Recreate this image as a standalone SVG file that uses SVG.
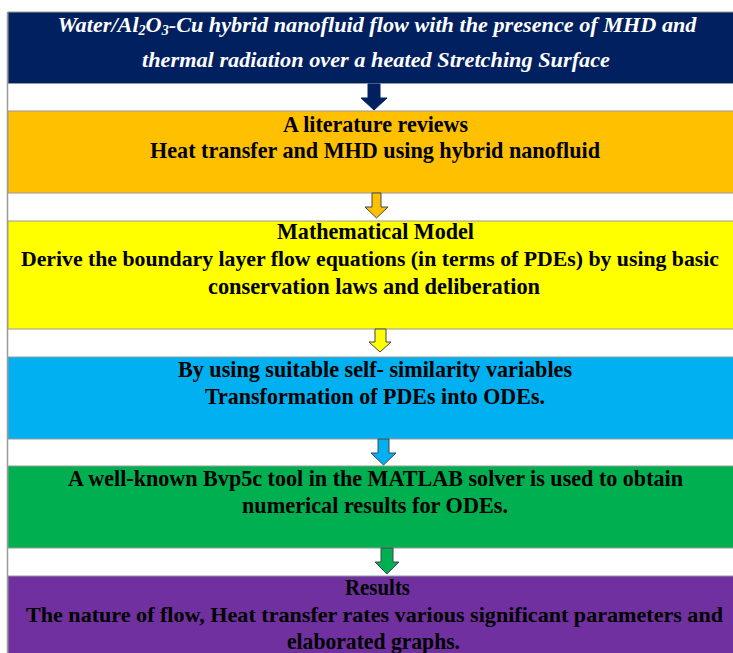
<svg xmlns="http://www.w3.org/2000/svg" width="733" height="653" viewBox="0 0 733 653">
<style>
.box{stroke:#9a9a9a;stroke-width:1}
.t{font-family:"Liberation Serif","Times New Roman",serif;font-weight:bold;font-size:23px;text-anchor:middle;fill:#000}
.w{font-size:21px}
.ti{font-family:"Liberation Serif","Times New Roman",serif;font-weight:bold;font-style:italic;font-size:22px;text-anchor:middle;fill:#fff}
.arr{stroke:#3f4650;stroke-width:1;stroke-linejoin:miter}
</style>
<rect x="0" y="0" width="733" height="653" fill="#fff"/>
<line x1="7.5" y1="12" x2="7.5" y2="653" stroke="#9a9a9a" stroke-width="1.5"/>
<g id="node-problem">
<rect class="box" x="8" y="12" width="730" height="71.5" fill="#002060"/>
<text class="ti" x="377" y="32" textLength="639" lengthAdjust="spacingAndGlyphs">Water/Al<tspan font-size="14" dy="3">2</tspan><tspan dy="-3">O</tspan><tspan font-size="14" dy="3">3</tspan><tspan dy="-3">-Cu hybrid nanofluid flow with the presence of MHD and</tspan></text>
<text class="ti" x="376" y="67" textLength="468" lengthAdjust="spacingAndGlyphs">thermal radiation over a heated Stretching Surface</text>
</g>
<g id="node-literature">
<rect class="box" x="8" y="111" width="730" height="82" fill="#FFC000"/>
<text class="t" x="375.5" y="132" textLength="185" lengthAdjust="spacingAndGlyphs">A literature reviews</text>
<text class="t" x="375" y="158" textLength="450" lengthAdjust="spacingAndGlyphs">Heat transfer and MHD using hybrid nanofluid</text>
</g>
<g id="node-model">
<rect class="box" x="8" y="221" width="730" height="108" fill="#FFFF00"/>
<text class="t" x="375.5" y="239" textLength="197" lengthAdjust="spacingAndGlyphs">Mathematical Model</text>
<text class="t w" x="370" y="266" textLength="698" lengthAdjust="spacingAndGlyphs">Derive the boundary layer flow equations (in terms of PDEs) by using basic</text>
<text class="t" x="374" y="294" textLength="332" lengthAdjust="spacingAndGlyphs">conservation laws and deliberation</text>
</g>
<g id="node-similarity">
<rect class="box" x="8" y="357" width="730" height="82" fill="#00B0F0"/>
<text class="t" x="375" y="377" textLength="394" lengthAdjust="spacingAndGlyphs">By using suitable self- similarity variables</text>
<text class="t" x="375" y="404" textLength="340" lengthAdjust="spacingAndGlyphs">Transformation of PDEs into ODEs.</text>
</g>
<g id="node-solver">
<rect class="box" x="8" y="466" width="730" height="82" fill="#00B050"/>
<text class="t" x="375.5" y="486" textLength="615" lengthAdjust="spacingAndGlyphs">A well-known Bvp5c tool in the MATLAB solver is used to obtain</text>
<text class="t" x="375" y="513" textLength="266" lengthAdjust="spacingAndGlyphs">numerical results for ODEs.</text>
</g>
<g id="node-results">
<rect class="box" x="8" y="576" width="730" height="90" fill="#7030A0"/>
<text class="t" x="377.5" y="595" textLength="65" lengthAdjust="spacingAndGlyphs">Results</text>
<text class="t w" x="374.5" y="622" textLength="697" lengthAdjust="spacingAndGlyphs">The nature of flow, Heat transfer rates various significant parameters and</text>
<text class="t" x="373.5" y="649" textLength="173" lengthAdjust="spacingAndGlyphs">elaborated graphs.</text>
</g>
<g id="connectors">
<polygon points="368,84 380,84 380,98 387,98 374,110 361,98 368,98" fill="#002060" stroke="#002060" stroke-width="1"/>
<polygon class="arr" points="372,193 381,193 381,207 388,207 376.5,218 365,207 372,207" fill="#FFC000"/>
<polygon class="arr" points="375,329 386,329 386,342 391,342 380,352 369,342 375,342" fill="#FFFF00"/>
<polygon class="arr" points="378,439 389,439 389,453 396,453 383.5,465 371,453 378,453" fill="#00B0F0"/>
<polygon class="arr" points="381,548 393,548 393,562 399,562 387,574 375,562 381,562" fill="#00B050"/>
</g>
</svg>
